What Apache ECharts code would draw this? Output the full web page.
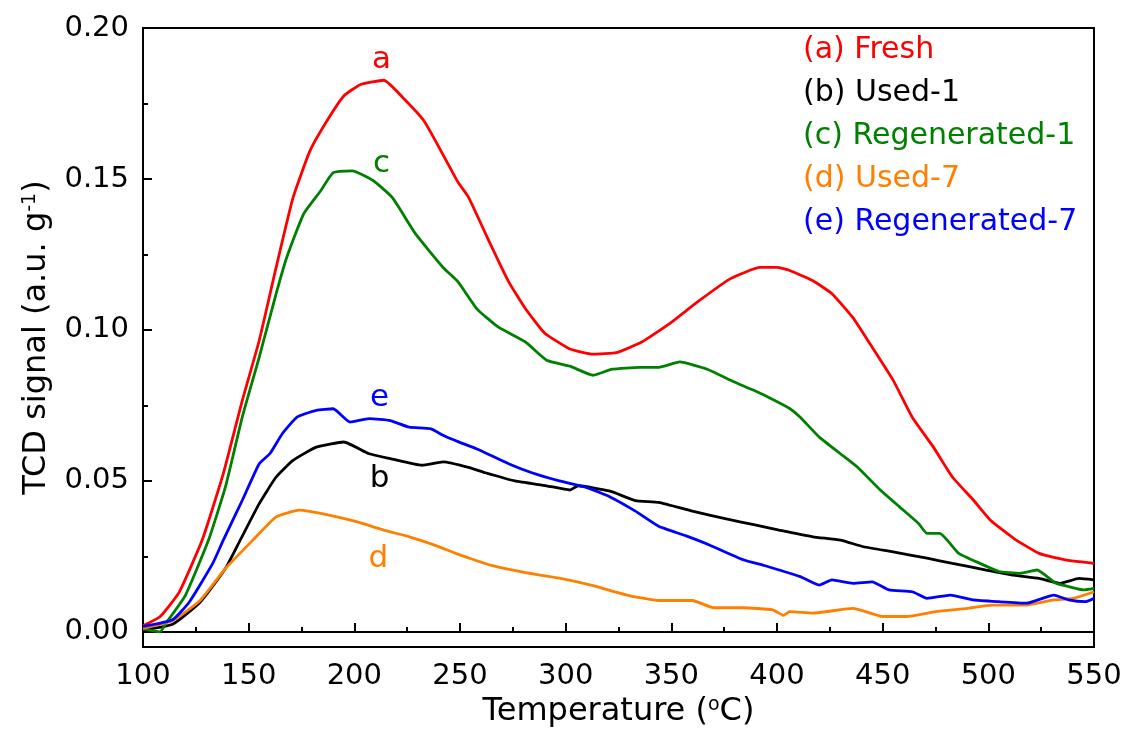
<!DOCTYPE html>
<html>
<head>
<meta charset="utf-8">
<script src="https://cdn.jsdelivr.net/npm/echarts@6.0.0/dist/echarts.min.js"></script>
<style>
  html, body { margin: 0; padding: 0; background: #fff; }
  #tpr-chart { width: 1129px; height: 737px; }
</style>
</head>
<body>
<div id="tpr-chart"></div>
<script>
// tick labels
var xTicks = [100, 150, 200, 250, 300, 350, 400, 450, 500, 550];
var yTicks = [0, 0.05, 0.10, 0.15, 0.20];
var yMinorTicks = [0.025, 0.075, 0.125, 0.175];

// (a) Fresh
var freshT = [100,108,117,128,138,147,155,163,171,179,187,195,203,214,223,233,242,249,254,263,273,281,290,302,313,324,336,349,363,378,392,400,406,417,426,436,444,455,464,474,483,493,501,512,524,537,550];
var freshV = [.002,.005,.013,.0304,.0524,.0767,.0965,.1207,.1438,.1593,.1692,.1775,.1813,.1827,.1769,.1692,.158,.149,.144,.1305,.116,.107,.099,.0937,.092,.0925,.096,.102,.1096,.117,.1207,.1207,.1197,.1163,.112,.104,.0954,.0833,.0711,.0612,.0513,.0436,.037,.031,.026,.0238,.0227];

// (b) Used-1
var used1T = [100,114,127,139,146,155,163,171,182,195,207,217,232,242,254,262,276,291,302,306,321,333,344,360,376,389,401,417,430,441,455,471,483,499,512,524,534,543,550];
var used1V = [.0006,.0025,.0098,.021,.0304,.0425,.0513,.0568,.0612,.0629,.059,.0574,.0552,.0563,.0545,.0527,.050,.0484,.047,.0484,.0466,.0435,.0429,.040,.0374,.0355,.0337,.0315,.0304,.0282,.0265,.0244,.0227,.0205,.0188,.0177,.0161,.0177,.0172];

// (c) Regenerated-1
var regen1T = [100,108,111,120,131,139,147,155,163,168,176,184,190,199,209,218,229,242,249,258,268,281,291,302,313,322,335,344,354,367,379,389,398,406,411,420,430,438,449,458,467,471,477,486,496,505,515,523,532,538,545,550];
var regen1V = [.001,.000,.003,.012,.0304,.048,.0712,.091,.112,.124,.1384,.146,.1521,.1527,.1494,.1438,.1318,.1207,.116,.107,.101,.096,.090,.088,.085,.087,.0876,.0876,.0894,.087,.083,.080,.077,.074,.0711,.0645,.059,.0546,.0469,.0414,.0359,.0326,.0326,.026,.0227,.020,.0194,.0205,.0161,.015,.0139,.0144];

// (d) Used-7
var used7T = [100,114,127,139,152,163,174,188,201,214,226,237,248,254,265,281,297,313,329,344,360,370,384,398,403,406,417,436,450,461,475,490,502,518,531,540,550];
var used7V = [.0012,.0037,.0104,.021,.0304,.0381,.0403,.0387,.0365,.0337,.0315,.029,.026,.0245,.022,.0196,.0178,.0153,.0122,.0104,.0104,.008,.008,.0073,.0055,.0067,.0062,.0078,.0051,.0051,.0067,.0078,.0089,.0089,.0106,.0111,.0133];

// (e) Regenerated-7
var regen7T = [100,114,122,133,138,147,155,160,166,173,182,190,198,207,217,226,236,242,249,258,273,284,297,310,321,333,344,357,368,384,394,401,411,420,426,436,445,453,464,471,482,493,505,518,531,538,546,550];
var regen7V = [.0018,.004,.010,.0227,.0304,.0436,.0557,.059,.0657,.0712,.0734,.0739,.0695,.0706,.070,.0678,.0673,.0651,.063,.0606,.0557,.0527,.050,.0478,.0447,.040,.035,.0318,.0288,.0239,.022,.0205,.0183,.0155,.0172,.0161,.0166,.0139,.0133,.0111,.0122,.0106,.010,.0095,.0122,.0106,.010,.0111];

var names = ["(a) Fresh", "(b) Used-1", "(c) Regenerated-1", "(d) Used-7", "(e) Regenerated-7"];
var letters = ["a", "b", "c", "d", "e"];
var colors = ["#ff0000", "#000000", "#008000", "#ff8000", "#0000ff"];
// where the curve letters sit [T, signal]
var letterPos = [[212.9, 0.1895], [211.9, 0.0505], [212.9, 0.155], [211.4, 0.024], [211.9, 0.0775]];

var temps = [freshT, used1T, regen1T, used7T, regen7T];
var values = [freshV, used1V, regen1V, used7V, regen7V];

function pairs(t, v) {
  var out = [];
  for (var i = 0; i < t.length; i++) out.push([t[i], v[i]]);
  return out;
}

var font = '"DejaVu Sans", sans-serif';
var chart = echarts.init(document.getElementById("tpr-chart"));

var series = names.map(function (name, i) {
  return {
    name: name,
    type: "line",
    data: pairs(temps[i], values[i]),
    showSymbol: false,
    symbol: "none",
    smooth: 0.15,
    lineStyle: { color: colors[i], width: 2.8 },
    itemStyle: { color: colors[i] },
    markPoint: {
      symbol: "circle",
      symbolSize: 0,
      silent: true,
      label: {
        show: true,
        position: "inside",
        formatter: letters[i],
        color: colors[i],
        fontSize: 31,
        fontFamily: font,
      },
      data: [{ coord: letterPos[i] }],
    },
  };
});

chart.setOption({
  animation: false,
  backgroundColor: "#fff",
  grid: {
    left: 143,
    right: 35,
    top: 28,
    bottom: 90,
    show: true,
    borderColor: "#000",
    borderWidth: 2,
  },
  legend: {
    orient: "vertical",
    left: 798,
    top: 35,
    padding: 0,
    itemWidth: 0,
    itemHeight: 0,
    itemGap: 13,
    icon: "rect",
    selectedMode: false,
    textStyle: { fontSize: 30, fontFamily: font, lineHeight: 30 },
    data: names.map(function (n, i) {
      return { name: n, textStyle: { color: colors[i] } };
    }),
  },
  xAxis: {
    type: "value",
    min: 100,
    max: 550,
    interval: 50,
    name: "Temperature ({sup|o}C)",
    nameLocation: "middle",
    nameGap: 47,
    nameTextStyle: {
      fontSize: 32,
      fontFamily: font,
      color: "#000",
      rich: { sup: { fontSize: 19, verticalAlign: "top", fontFamily: font, color: "#000" } },
    },
    axisLine: { lineStyle: { color: "#000", width: 2 } },
    axisTick: { inside: true, length: 9, lineStyle: { color: "#000", width: 2 } },
    minorTick: { show: true, splitNumber: 2, length: 5, lineStyle: { color: "#000", width: 2 } },
    axisLabel: { fontSize: 29, fontFamily: font, color: "#000", margin: 15 },
    splitLine: { show: false },
  },
  yAxis: [
    {
      type: "value",
      min: -0.005,
      max: 0.2,
      name: "TCD signal (a.u. g{sup|-1})",
      nameLocation: "middle",
      nameGap: 90,
      nameTextStyle: {
        fontSize: 32,
        fontFamily: font,
        color: "#000",
        rich: { sup: { fontSize: 19, verticalAlign: "top", fontFamily: font, color: "#000" } },
      },
      axisLine: { show: true, lineStyle: { color: "#000", width: 2 } },
      axisTick: { inside: true, length: 9, customValues: yTicks, lineStyle: { color: "#000", width: 2 } },
      axisLabel: {
        fontSize: 29,
        fontFamily: font,
        color: "#000",
        margin: 14,
        customValues: yTicks,
        formatter: function (v) { return v.toFixed(2); },
      },
      splitLine: { show: false },
    },
    {
      type: "value",
      min: -0.005,
      max: 0.2,
      position: "left",
      axisLine: { show: false },
      axisTick: { show: true, inside: true, length: 5, customValues: yMinorTicks, lineStyle: { color: "#000", width: 2 } },
      axisLabel: { show: false },
      splitLine: { show: false },
    },
  ],
  series: series,
});
</script>
</body>
</html>
